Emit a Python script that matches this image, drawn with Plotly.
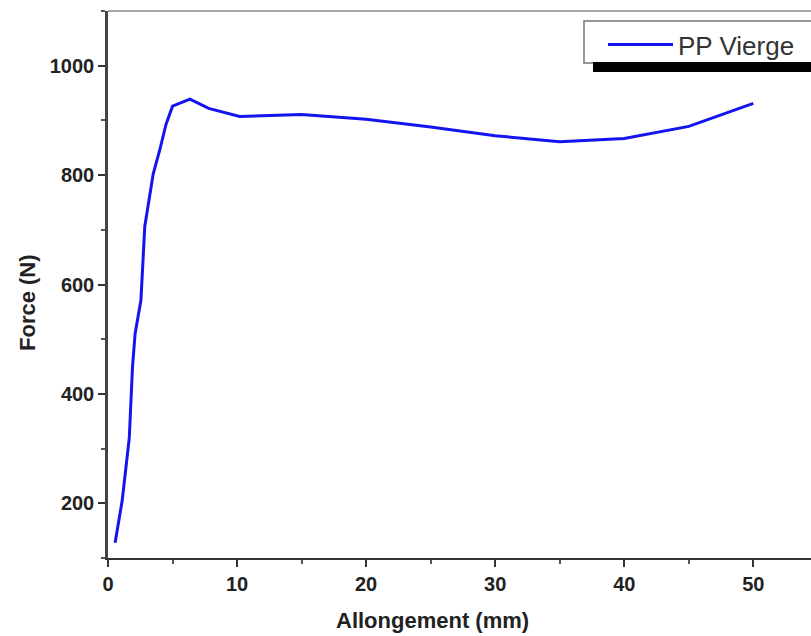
import plotly.graph_objects as go

# Data
allongement_mm = [0.55, 1.1, 1.65, 1.9, 2.1, 2.55, 2.85, 3.5, 4.0, 4.5, 5.0, 6.35, 7.8, 10.2,
                  15, 20, 25, 30, 35, 40, 45, 50]
force_n = [128, 205, 320, 450, 510, 571, 706, 802, 845, 893, 926, 939, 922, 907,
           911, 902, 888, 872, 861, 867, 889, 931]
series_name = "PP Vierge"
x_ticks = [0, 10, 20, 30, 40, 50]
y_ticks = [200, 400, 600, 800, 1000]

W, H = 811, 636
L, R, T, B = 108, 0, 11, 78
PW, PH = W - L - R, H - T - B

def px(x):
    return (x - L) / PW

def py(y):
    return (H - B - y) / PH

FONT = "Liberation Sans, Arial, sans-serif"

fig = go.Figure()
fig.add_trace(go.Scatter(
    x=allongement_mm, y=force_n, mode="lines", name=series_name,
    line=dict(color="#1414f0", width=3),
))

fig.update_layout(
    width=W, height=H,
    margin=dict(l=L, r=R, t=T, b=B),
    paper_bgcolor="white", plot_bgcolor="white",
    font=dict(family=FONT, color="#222"),
    showlegend=True,
    legend=dict(
        x=px(603), y=py(21), xanchor="left", yanchor="top",
        bgcolor="rgba(0,0,0,0)", borderwidth=0,
        font=dict(size=26, color="#333", family=FONT),
        itemwidth=65, tracegroupgap=0,
    ),
    xaxis=dict(
        range=[0, 54.47], tickvals=x_ticks, ticktext=[str(v) for v in x_ticks],
        showgrid=False, zeroline=False, showline=True, linecolor="#333", linewidth=2,
        ticks="outside", ticklen=7, tickwidth=2, tickcolor="#333",
        tickfont=dict(size=20, family=FONT, color="#222", weight="bold"),
        minor=dict(dtick=5, tick0=0, ticks="outside", ticklen=4, tickwidth=2, tickcolor="#555"),
        mirror=False,
    ),
    yaxis=dict(
        range=[100, 1100], tickvals=y_ticks, ticktext=[str(v) for v in y_ticks],
        showgrid=False, zeroline=False, showline=True, linecolor="#444", linewidth=2.5,
        ticks="outside", ticklen=7, tickwidth=2, tickcolor="#333",
        tickfont=dict(size=20, family=FONT, color="#222", weight="bold"),
        minor=dict(dtick=100, tick0=100, ticks="outside", ticklen=4, tickwidth=2, tickcolor="#555"),
        mirror=False,
    ),
    shapes=[
        # top frame line
        dict(type="line", xref="paper", yref="paper", x0=0, x1=1.01, y0=1, y1=1,
             line=dict(color="#888", width=1.5)),
        # legend shadow
        dict(type="rect", xref="paper", yref="paper", x0=px(593), x1=px(830), y0=py(72), y1=py(62),
             fillcolor="black", line=dict(width=0), layer="above"),
        # legend box
        dict(type="rect", xref="paper", yref="paper", x0=px(584), x1=px(830), y0=py(63), y1=py(21),
             fillcolor="white", line=dict(color="#777", width=1.5), layer="below"),
    ],
    annotations=[
        dict(text="<b>Force (N)</b>", xref="paper", yref="paper", x=px(27), y=py(303),
             showarrow=False, textangle=-90, font=dict(size=22, family=FONT, color="#222"),
             xanchor="center", yanchor="middle"),
        dict(text="<b>Allongement (mm)</b>", xref="paper", yref="paper", x=px(432), y=py(621),
             showarrow=False, font=dict(size=22, family=FONT, color="#222"),
             xanchor="center", yanchor="middle"),
    ],
)

fig.write_html("out.html", config={"displayModeBar": False},
               post_script="document.body.style.margin='0';document.body.style.overflow='hidden';")
